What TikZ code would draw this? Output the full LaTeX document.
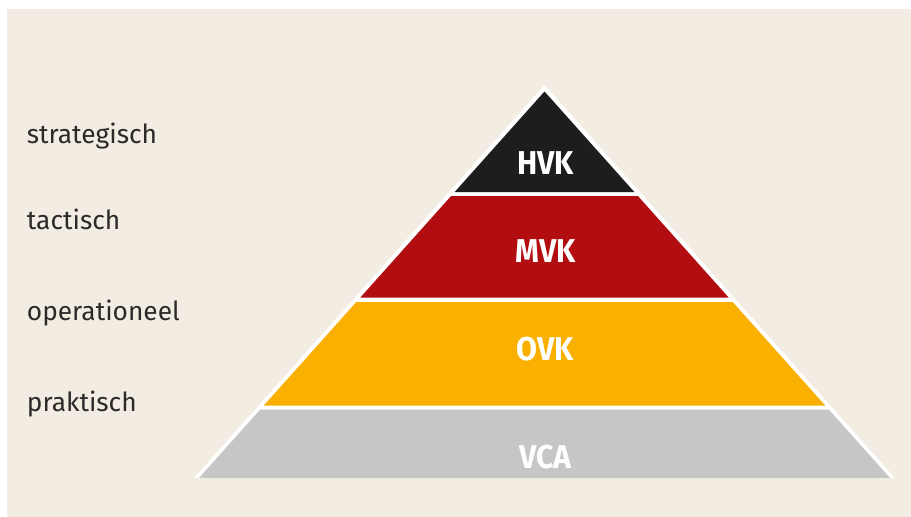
\documentclass[tikz,border=0pt]{standalone}
\usepackage{fontspec}
\setmainfont{Fira Sans}
\newfontfamily\condbold[FakeStretch=0.92]{Fira Sans Bold}
\definecolor{bgbeige}{HTML}{F2ECE2}
\definecolor{hvkcol}{HTML}{1D1D1B}
\definecolor{mvkcol}{HTML}{B20D10}
\definecolor{ovkcol}{HTML}{F9B000}
\definecolor{vcacol}{HTML}{C6C6C6}
\definecolor{labcol}{HTML}{2B2A29}
\tikzset{
  lvl/.style={anchor=base west, inner sep=0pt, text=labcol, font=\fontsize{26.3}{26.3}\selectfont},
  band/.style={inner sep=0pt, text=white, font=\condbold\fontsize{33}{33}\selectfont}
}
\begin{document}
\begin{tikzpicture}[x=1pt,y=-1pt]
\useasboundingbox (0,0) rectangle (911,517);
\fill[white] (0,0) rectangle (911,517);
\fill[bgbeige] (7,9) rectangle (911,517);
% outer white outline
\fill[white] (544.5,85) -- (895,478) -- (194,478) -- cycle;
% bands
\fill[hvkcol] (544.5,91.5) -- (634.34,192) -- (454.66,192) -- cycle;
\fill[mvkcol] (451.09,196) -- (637.91,196) -- (728.64,297.5) -- (360.36,297.5) -- cycle;
\fill[ovkcol] (356.33,302) -- (732.67,302) -- (825.18,405.5) -- (263.82,405.5) -- cycle;
\fill[vcacol] (260.24,409.5) -- (828.76,409.5) -- (890,478) -- (199,478) -- cycle;
% band labels
\node[band] (hvk) at (545.5,162.7) {HVK};
\node[band] (mvk) at (545.5,251) {MVK};
\node[band] (ovk) at (545.5,349.5) {OVK};
\node[band] (vca) at (545.5,456.7) {VCA};
% level labels
\node[lvl] (strat) at (26.7,143.5) {strategisch};
\node[lvl] (tact) at (26.7,229.3) {tactisch};
\node[lvl] (oper) at (26.7,320.7) {operationeel};
\node[lvl] (prak) at (26.7,411.7) {praktisch};
\end{tikzpicture}
\end{document}
